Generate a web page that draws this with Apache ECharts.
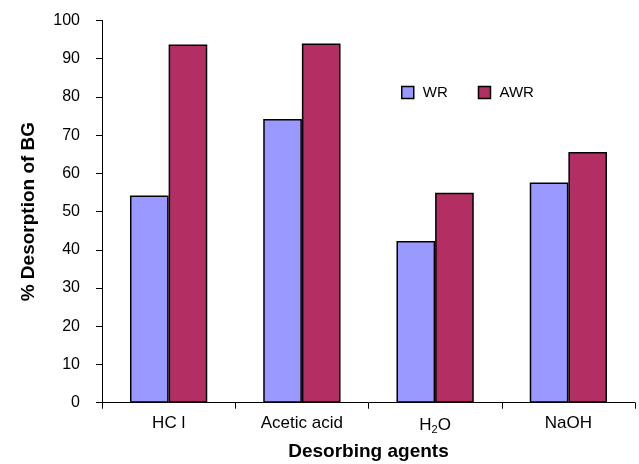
<!DOCTYPE html>
<html>
<head>
<meta charset="utf-8">
<script src="https://cdn.jsdelivr.net/npm/echarts@6/dist/echarts.min.js"></script>
<style>
  html, body { margin: 0; padding: 0; background: #fff; }
  #chart { width: 639px; height: 464px; }
</style>
</head>
<body>
<div id="chart"></div>
<script>
  // data
  var agents = ['HCl', 'Acetic acid', 'H2O', 'NaOH'];
  var wr = [54.2, 74.2, 42.3, 57.6];
  var awr = [93.7, 94.0, 54.9, 65.6];
  var yTicks = [0, 10, 20, 30, 40, 50, 60, 70, 80, 90, 100];

  var chart = echarts.init(document.getElementById('chart'));
  var font = 'Liberation Sans, Arial, sans-serif';

  chart.setOption({
    animation: false,
    textStyle: { fontFamily: font },
    grid: { left: 102, right: 4, top: 20.5, bottom: 61.3, outerBoundsMode: 'none' },
    legend: {
      data: ['WR', 'AWR'],
      left: 396, top: 80,
      itemWidth: 12, itemHeight: 12, itemGap: 30,
      icon: 'rect',
      itemStyle: { borderColor: '#000', borderWidth: 1.5 },
      textStyle: { fontSize: 15, color: '#000', fontFamily: font, padding: [0, 0, 0, 4] }
    },
    xAxis: {
      type: 'category',
      data: agents,
      name: 'Desorbing agents',
      nameLocation: 'middle',
      nameGap: 40,
      nameTextStyle: { fontSize: 19, fontWeight: 'bold', color: '#000', fontFamily: font },
      axisLine: { lineStyle: { color: '#000', width: 1 } },
      axisTick: { show: true, length: 6, interval: 0, lineStyle: { color: '#000' } },
      axisLabel: {
        interval: 0,
        fontSize: 17, color: '#000', margin: 12,
        formatter: function (v) {
          if (v === 'H2O') return '{a|H}{s|2}{a|O}';
          if (v === 'HCl') return '{a|HC l}';
          return '{a|' + v + '}';
        },
        rich: {
          a: { fontSize: 17, color: '#000', fontFamily: font },
          s: { fontSize: 11, color: '#000', fontFamily: font, verticalAlign: 'bottom', padding: [10, 0, 0, 0] }
        }
      }
    },
    yAxis: {
      type: 'value',
      min: yTicks[0],
      max: yTicks[yTicks.length - 1],
      interval: 10,
      name: '% Desorption of BG',
      nameLocation: 'middle',
      nameGap: 64,
      nameTextStyle: { fontSize: 19, fontWeight: 'bold', color: '#000', fontFamily: font },
      axisLine: { show: true, lineStyle: { color: '#000', width: 1 } },
      axisTick: { show: true, length: 6, lineStyle: { color: '#000' } },
      axisLabel: { fontSize: 16, color: '#000', margin: 22 },
      splitLine: { show: false }
    },
    series: [
      {
        name: 'WR', type: 'bar', data: wr,
        barGap: '0%', barCategoryGap: '42%',
        itemStyle: { color: '#9999ff', borderColor: '#000', borderWidth: 1.5 }
      },
      {
        name: 'AWR', type: 'bar', data: awr,
        itemStyle: { color: '#b22e63', borderColor: '#000', borderWidth: 1.5 }
      }
    ]
  });
</script>
</body>
</html>
